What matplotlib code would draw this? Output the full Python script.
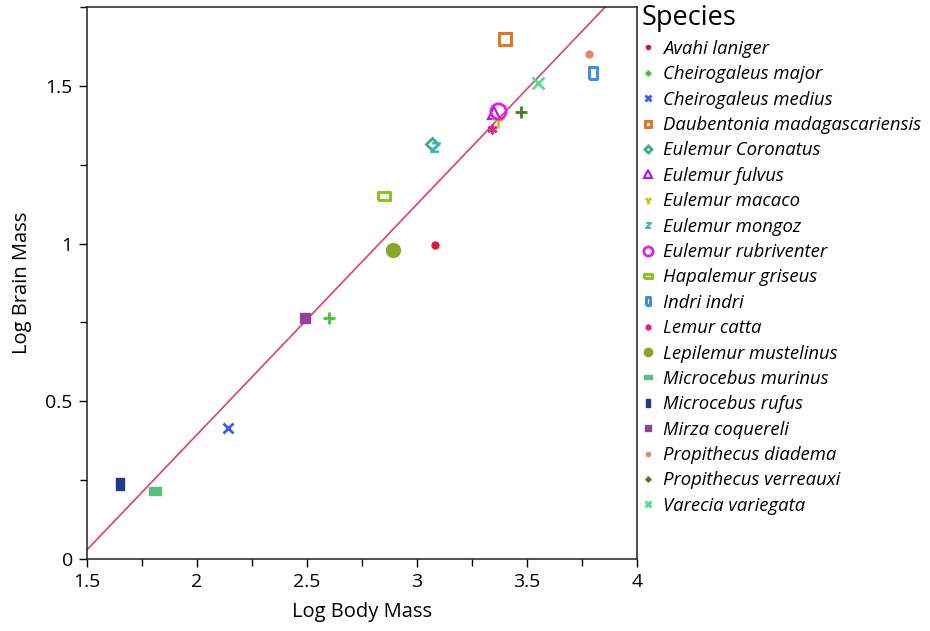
"""
Log brain mass vs log body mass for lemur species, with fitted line.
"""
import matplotlib.pyplot as plt
from matplotlib.ticker import MultipleLocator
import numpy as np

plt.rcParams['font.family'] = ['Open Sans', 'DejaVu Sans']

species = [
    "Avahi laniger", "Cheirogaleus major", "Cheirogaleus medius",
    "Daubentonia madagascariensis", "Eulemur Coronatus", "Eulemur fulvus",
    "Eulemur macaco", "Eulemur mongoz", "Eulemur rubriventer",
    "Hapalemur griseus", "Indri indri", "Lemur catta",
    "Lepilemur mustelinus", "Microcebus murinus", "Microcebus rufus",
    "Mirza coquereli", "Propithecus diadema", "Propithecus verreauxi",
    "Varecia variegata",
]
log_body = [3.08, 2.60, 2.14, 3.40, 3.07, 3.35, 3.37, 3.08, 3.37,
            2.85, 3.80, 3.34, 2.89, 1.81, 1.65, 2.49, 3.78, 3.47, 3.55]
log_brain = [0.994, 0.763, 0.415, 1.650, 1.315, 1.415, 1.388, 1.305, 1.421,
             1.150, 1.541, 1.362, 0.979, 0.215, 0.236, 0.763, 1.600, 1.419, 1.508]

# fitted line
fit_x = [1.5, 4.0]
fit_slope = 0.732
fit_intercept = -1.071

# marker shapes
wide_rect = [(-1, -0.6), (1, -0.6), (1, 0.6), (-1, 0.6), (-1, -0.6)]
tall_rect = [(-0.6, -1), (0.6, -1), (0.6, 1), (-0.6, 1), (-0.6, -1)]
asterisk = (6, 2, 0)

# style per species: (color, marker, size, filled, edge width)
styles = {
    "Avahi laniger": ("#d8173f", "o", 5, True, 1),
    "Cheirogaleus major": ("#3cc82a", "+", 8, True, 2),
    "Cheirogaleus medius": ("#3a5cf5", "x", 7, True, 2),
    "Daubentonia madagascariensis": ("#e07a22", "s", 8, False, 2.2),
    "Eulemur Coronatus": ("#3aaa88", "D", 6, False, 2),
    "Eulemur fulvus": ("#a424e6", "^", 9, False, 1.6),
    "Eulemur macaco": ("#c8c61e", "1", 10, True, 2),
    "Eulemur mongoz": ("#3cb0c4", "$z$", 7, True, 0.8),
    "Eulemur rubriventer": ("#e01ee6", "o", 11, False, 2),
    "Hapalemur griseus": ("#84c41e", wide_rect, 9, False, 2.2),
    "Indri indri": ("#3f8ee0", tall_rect, 9, False, 2.2),
    "Lemur catta": ("#e0267e", asterisk, 7, True, 1.6),
    "Lepilemur mustelinus": ("#8aa626", "o", 10, True, 1),
    "Microcebus murinus": ("#5cbf80", wide_rect, 9, True, 1),
    "Microcebus rufus": ("#1f3a88", tall_rect, 9, True, 1),
    "Mirza coquereli": ("#93409e", "s", 7, True, 1),
    "Propithecus diadema": ("#e28a62", "o", 5, True, 1),
    "Propithecus verreauxi": ("#4a7a1e", "+", 8, True, 2),
    "Varecia variegata": ("#52e090", "x", 8, True, 2),
}

fig = plt.figure(figsize=(9.3, 6.31), dpi=100)
ax = fig.add_axes([0.0932, 0.1146, 0.592, 0.874])

xs = np.array(fit_x)
ax.plot(xs, fit_slope * xs + fit_intercept, color="#e0406a", linewidth=1.2, zorder=1)

for name, bx, by in zip(species, log_body, log_brain):
    color, marker, size, filled, ew = styles[name]
    face = color if filled else "none"
    ax.plot(bx, by, linestyle="none", marker=marker, markersize=size,
            markerfacecolor=face, markeredgecolor=color, markeredgewidth=ew,
            label=name, zorder=3)

ax.set_xlim(1.5, 4)
ax.set_ylim(0, 1.75)
ax.xaxis.set_minor_locator(MultipleLocator(0.25))
ax.yaxis.set_minor_locator(MultipleLocator(0.25))
ax.set_xticks([1.5, 2, 2.5, 3, 3.5, 4], ["1.5", "2", "2.5", "3", "3.5", "4"])
ax.set_yticks([0, 0.5, 1, 1.5], ["0", "0.5", "1", "1.5"])
ax.tick_params(which="major", direction="out", length=6, width=1, labelsize=14, pad=4)
ax.tick_params(which="minor", direction="out", length=5, width=1)
for s in ax.spines.values():
    s.set_linewidth(1.1)
    s.set_color("#222222")

ax.set_xlabel("Log Body Mass", fontsize=14.5, labelpad=8)
ax.set_ylabel("Log Brain Mass", fontsize=14.5, labelpad=10)

leg = ax.legend(title="Species", loc="upper left", bbox_to_anchor=(0.988, 1.025),
                frameon=False, markerscale=0.6, handlelength=0.7, handletextpad=0.45,
                labelspacing=0.4, borderaxespad=0.2,
                prop={"style": "italic", "size": 13.3}, title_fontsize=19.5,
                alignment="left")

plt.savefig("out.png", dpi=100)
